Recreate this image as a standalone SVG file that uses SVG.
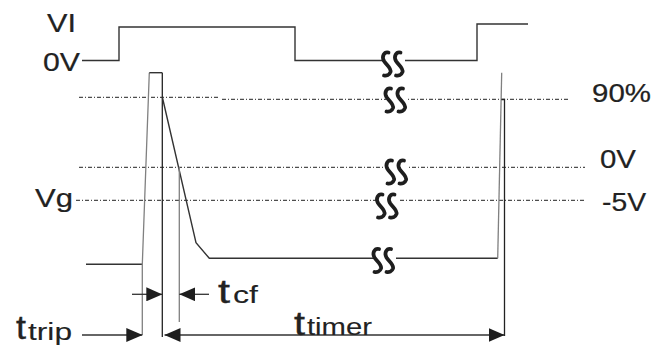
<svg xmlns="http://www.w3.org/2000/svg" xmlns:xlink="http://www.w3.org/1999/xlink" width="666" height="347" viewBox="0 0 666 347">
  <style>
    .wave { fill: none; stroke: #333; stroke-width: 1.4; stroke-linejoin: miter; }
    .light { fill: none; stroke: #808080; stroke-width: 1.3; }
    .dark { fill: none; stroke: #222; stroke-width: 1.3; }
    .ref { fill: none; stroke: #222; stroke-width: 1; stroke-dasharray: 4 2 1 2; }
    .dim { fill: none; stroke: #333; stroke-width: 1.3; }
    .lbl { font-family: "Liberation Sans", Arial, sans-serif; font-size: 25px; fill: #222; stroke: #222; stroke-width: 0.2; }
    .big { font-family: "Liberation Sans", Arial, sans-serif; font-size: 33px; fill: #222; stroke: #222; stroke-width: 0.4; }
    .sub { font-family: "Liberation Sans", Arial, sans-serif; font-size: 23px; fill: #222; stroke: #222; stroke-width: 0.1; }
    .s { fill: none; stroke: #1e1e1e; stroke-width: 3.8; stroke-linecap: round; }
    .gap { fill: #fff; }
  </style>
  <defs>
    <marker id="ah" viewBox="0 0 16 14" refX="16" refY="7" markerWidth="16" markerHeight="14" markerUnits="userSpaceOnUse" orient="auto-start-reverse">
      <path d="M0,0 L16,7 L0,14 Z" fill="#1e1e1e"/>
    </marker>
    <g id="brk">
      <path class="s" d="M-5.5,-11.5 C-10,-12.5 -12.5,-7.5 -10,-3 C-7.5,1 -2.5,4 -3.5,8 C-4.5,11 -7.5,12 -10,11.5"/>
      <path class="s" d="M6.5,-11.5 C2,-12.5 -0.5,-7.5 2,-3 C4.5,1 9.5,4 8.5,8 C7.5,11 4.5,12 2,11.5"/>
    </g>
  </defs>

  <rect width="666" height="347" fill="#fff"/>

  <g id="reference-lines">
    <path class="ref" d="M79,97.3 H218"/>
    <path class="ref" d="M222,99.3 H568"/>
    <path class="ref" d="M79,167.3 H585"/>
    <path class="ref" d="M76,200.3 H585"/>
  </g>

  <g id="vi-waveform">
    <path class="wave" d="M82,60.5 H119 V27 H295 V60.5 H477 V24 H528"/>
  </g>

  <g id="vg-waveform">
    <path class="wave" d="M86,264.3 H142.3"/>
    <path class="light" d="M142.3,335 V264.3 L149.3,72.7"/>
    <path class="wave" d="M149.3,72.7 H162.3"/>
    <path class="dark" d="M162.3,72.7 V337"/>
    <path class="wave" d="M162.3,97 L196,242.7 L209.3,258.3 H497.7"/>
    <path class="light" d="M179.3,167 V322"/>
    <path class="light" d="M497.7,258.3 L501.7,72.7"/>
    <path class="dark" d="M501.5,99.5 H504.5 V336"/>
  </g>

  <g id="breaks">
    <rect class="gap" x="383" y="58" width="22" height="5"/>
    <rect class="gap" x="386" y="97" width="22" height="5"/>
    <rect class="gap" x="387" y="165" width="22" height="5"/>
    <rect class="gap" x="377" y="198" width="22" height="5"/>
    <rect class="gap" x="374" y="256" width="22" height="5"/>
    <use xlink:href="#brk" href="#brk" x="394" y="64"/>
    <use xlink:href="#brk" href="#brk" x="396.5" y="100"/>
    <use xlink:href="#brk" href="#brk" x="397.5" y="172"/>
    <use xlink:href="#brk" href="#brk" x="388" y="206"/>
    <use xlink:href="#brk" href="#brk" x="384.5" y="260.5"/>
  </g>

  <g id="connectors">
    <path class="dim" d="M82,335 H142.3" marker-end="url(#ah)"/>
    <path class="dim" d="M132,294.3 H162.3" marker-end="url(#ah)"/>
    <path class="dim" d="M209,294.3 H179.3" marker-end="url(#ah)"/>
    <path class="dim" d="M164.5,335 H504.5" marker-start="url(#ah)" marker-end="url(#ah)"/>
  </g>

  <g id="labels">
    <text id="label-vi" class="lbl" x="47" y="32" textLength="29" lengthAdjust="spacingAndGlyphs">VI</text>
    <text id="label-0v-left" class="lbl" x="43" y="71" textLength="37" lengthAdjust="spacingAndGlyphs">0V</text>
    <text id="label-vg" class="lbl" x="35" y="207" textLength="38" lengthAdjust="spacingAndGlyphs">Vg</text>
    <text id="label-90" class="lbl" x="592" y="102" textLength="59" lengthAdjust="spacingAndGlyphs">90%</text>
    <text id="label-0v-right" class="lbl" x="600" y="168" textLength="36" lengthAdjust="spacingAndGlyphs">0V</text>
    <text id="label-5v" class="lbl" x="602" y="211" textLength="44" lengthAdjust="spacingAndGlyphs">-5V</text>
    <g id="label-ttrip">
      <text class="big" x="16" y="339" textLength="10" lengthAdjust="spacingAndGlyphs">t</text>
      <text class="sub" x="28" y="340" textLength="44" lengthAdjust="spacingAndGlyphs">trip</text>
    </g>
    <g id="label-tcf">
      <text class="big" x="218" y="303" textLength="12" lengthAdjust="spacingAndGlyphs">t</text>
      <text class="sub" x="233" y="303" textLength="25" lengthAdjust="spacingAndGlyphs">cf</text>
    </g>
    <g id="label-ttimer">
      <text class="big" x="294" y="335" textLength="11" lengthAdjust="spacingAndGlyphs">t</text>
      <text class="sub" x="307" y="335" textLength="65" lengthAdjust="spacingAndGlyphs">timer</text>
    </g>
  </g>
</svg>
